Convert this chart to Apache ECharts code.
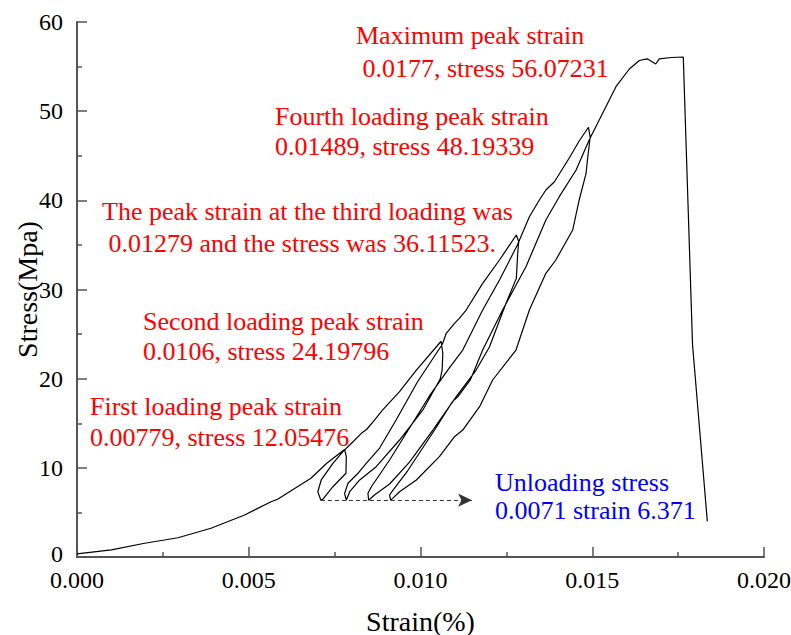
<!DOCTYPE html>
<html>
<head>
<meta charset="utf-8">
<script src="https://cdn.jsdelivr.net/npm/echarts@6/dist/echarts.min.js"></script>
<style>html,body{margin:0;padding:0;background:#fff;}#c{width:791px;height:635px;}</style>
</head>
<body>
<div id="c"></div>
<script>
// ---- data: [strain, stress] in loading order ----
const loading1 = [[0,0.35],[0.0010,0.79],[0.00197,1.54],[0.00294,2.16],[0.0039,3.22],[0.00488,4.71],[0.00565,6.2],[0.00584,6.47],[0.00681,8.83],[0.00727,10.51],[0.00779,12.05476]];
const unloading1 = [[0.00784,11.25],[0.00783,9.39],[0.00745,7.88],[0.00716,6.5],[0.0071,6.371]];
const loading2 = [[0.00701,7.32],[0.00711,8.64],[0.00745,10.51],[0.00776,11.9],[0.00794,12.56],[0.00828,13.87],[0.00843,14.3],[0.00866,15.36],[0.0089,16.49],[0.00939,18.54],[0.00988,20.97],[0.0106,24.19796]];
const unloading2 = [[0.01065,22.84],[0.01063,20.97],[0.01057,19.93],[0.01007,16.49],[0.00939,13.12],[0.00871,10.13],[0.00823,8.64],[0.00794,7.32],[0.00784,6.371]];
const loading3 = [[0.00779,7.14],[0.00789,8.27],[0.00818,9.39],[0.00842,10.51],[0.00881,12.22],[0.00929,15.36],[0.00991,19.63],[0.01064,23.89],[0.01075,25.09],[0.01099,26.21],[0.01113,26.77],[0.01133,27.7],[0.01181,30.69],[0.0123,33.31],[0.01279,36.11523]];
const unloading3 = [[0.01286,35.36],[0.01283,34.06],[0.01279,31.25],[0.01249,28.45],[0.01201,23.58],[0.01162,20.97],[0.01104,17.98],[0.01036,14.24],[0.00968,10.65],[0.0091,8.19],[0.00866,6.95],[0.00849,6.371]];
const loading4 = [[0.00847,7.14],[0.00857,7.88],[0.0091,10.88],[0.00968,14.47],[0.01026,18.06],[0.01084,21.2],[0.01123,23.21],[0.01181,27.7],[0.0123,31.06],[0.01282,34.99],[0.01317,38.16],[0.01346,40.04],[0.01365,41.16],[0.0139,42.09],[0.01433,44.75],[0.01462,46.65],[0.01489,48.19339]];
const unloading4 = [[0.01494,47.1],[0.01486,44.52],[0.01482,43.03],[0.01462,40.04],[0.01443,36.67],[0.01394,33.31],[0.01365,31.82],[0.01317,27.7],[0.01278,23.21],[0.0121,19.85],[0.01172,16.86],[0.01123,14.24],[0.01099,13.49],[0.01055,11.25],[0.00988,8.64],[0.00939,7.32],[0.00919,6.58],[0.00913,6.371]];
const loading5 = [[0.0091,6.95],[0.0092,7.51],[0.00962,9.64],[0.01041,14.24],[0.01093,17.42],[0.01109,17.98],[0.01145,19.85],[0.01181,23.21],[0.01239,27.7],[0.01307,32.56],[0.01365,37.79],[0.01404,40.41],[0.01453,43.4],[0.01491,46.77],[0.01535,50.13],[0.01569,52.74],[0.01608,54.73],[0.01637,55.68],[0.0166,55.87],[0.01685,55.29],[0.01695,55.87],[0.0173,56.02],[0.01765,56.07231]];
const failure = [[0.01792,23.77],[0.01835,4.0]];

const unloadStressPoint = [0.0071, 6.371];
const arrowEndStrain = 0.0115;

const xTicks = {min:0, max:0.02, step:0.005};
const yTicks = {min:0, max:60, step:10};

const curve = [].concat(loading1, unloading1, loading2, unloading2, loading3, unloading3, loading4, unloading4, loading5, failure);

const FONT = '"Liberation Serif", "Times New Roman", serif';
const red = '#ff0000', blue = '#0000ff';

const notes = [
  {t:'Maximum peak strain', x:356, y:37, c:red},
  {t:' 0.0177, stress 56.07231', x:356, y:70, c:red},
  {t:'Fourth loading peak strain', x:275, y:118, c:red},
  {t:'0.01489, stress 48.19339', x:275, y:148, c:red},
  {t:'The peak strain at the third loading was', x:102, y:213, c:red},
  {t:' 0.01279 and the stress was 36.11523.', x:102, y:245, c:red},
  {t:'Second loading peak strain', x:143, y:323, c:red},
  {t:'0.0106, stress 24.19796', x:143, y:353, c:red},
  {t:'First loading peak strain', x:90, y:408, c:red},
  {t:'0.00779, stress 12.05476', x:90, y:439, c:red},
  {t:'Unloading stress', x:495, y:484, c:blue},
  {t:'0.0071 strain 6.371', x:495, y:512, c:blue}
];

const chart = echarts.init(document.getElementById('c'), null, {renderer:'svg'});
const axisCommon = {
  axisLine:{show:true, onZero:false, lineStyle:{color:'#555', width:2}},
  axisTick:{show:true, inside:true, length:10, lineStyle:{color:'#555', width:1.5}},
  minorTick:{show:true, splitNumber:2, length:5, lineStyle:{color:'#555', width:1.5}},
  splitLine:{show:false},
  nameLocation:'middle',
  nameMoveOverlap:false,
  nameTextStyle:{fontFamily:FONT, fontSize:28, color:'#000'}
};
chart.setOption({
  animation:false,
  backgroundColor:'#fff',
  grid:{left:77, right:27, top:22, bottom:78, containLabel:false, outerBoundsMode:'none'},
  xAxis:Object.assign({}, axisCommon, {
    type:'value', min:xTicks.min, max:xTicks.max, interval:xTicks.step,
    name:'Strain(%)', nameGap:50,
    axisLabel:{formatter:v=>v.toFixed(3), fontFamily:FONT, fontSize:24, color:'#000', margin:13, lineHeight:20}
  }),
  yAxis:Object.assign({}, axisCommon, {
    type:'value', min:yTicks.min, max:yTicks.max, interval:yTicks.step,
    name:'Stress(Mpa)', nameGap:36,
    axisLabel:{fontFamily:FONT, fontSize:24, color:'#000', margin:14, lineHeight:18,
      formatter:v=>v===0?'{z|0}':String(v),
      rich:{z:{fontFamily:FONT, fontSize:24, color:'#000', lineHeight:18, padding:[0,0,6,0]}}}
  }),
  series:[
    {type:'line', data:curve, showSymbol:false, symbol:'none', lineStyle:{color:'#000', width:1.2}, z:3},
    {type:'line', data:[], markLine:{silent:true, symbol:['none','arrow'], symbolSize:[10,14],
      label:{show:false},
      lineStyle:{type:[4,3], color:'#333', width:1.2},
      itemStyle:{color:'#000'},
      data:[[{coord:unloadStressPoint},{coord:[arrowEndStrain, unloadStressPoint[1]], itemStyle:{color:'#000'}, lineStyle:{type:[4,3], color:'#333', width:1.2}}]]}}
  ],
  graphic: notes.map(n=>({type:'text', left:n.x, top:n.y-15, style:{text:n.t, fill:n.c, font:'26px '+FONT}}))
});
</script>
</body>
</html>
